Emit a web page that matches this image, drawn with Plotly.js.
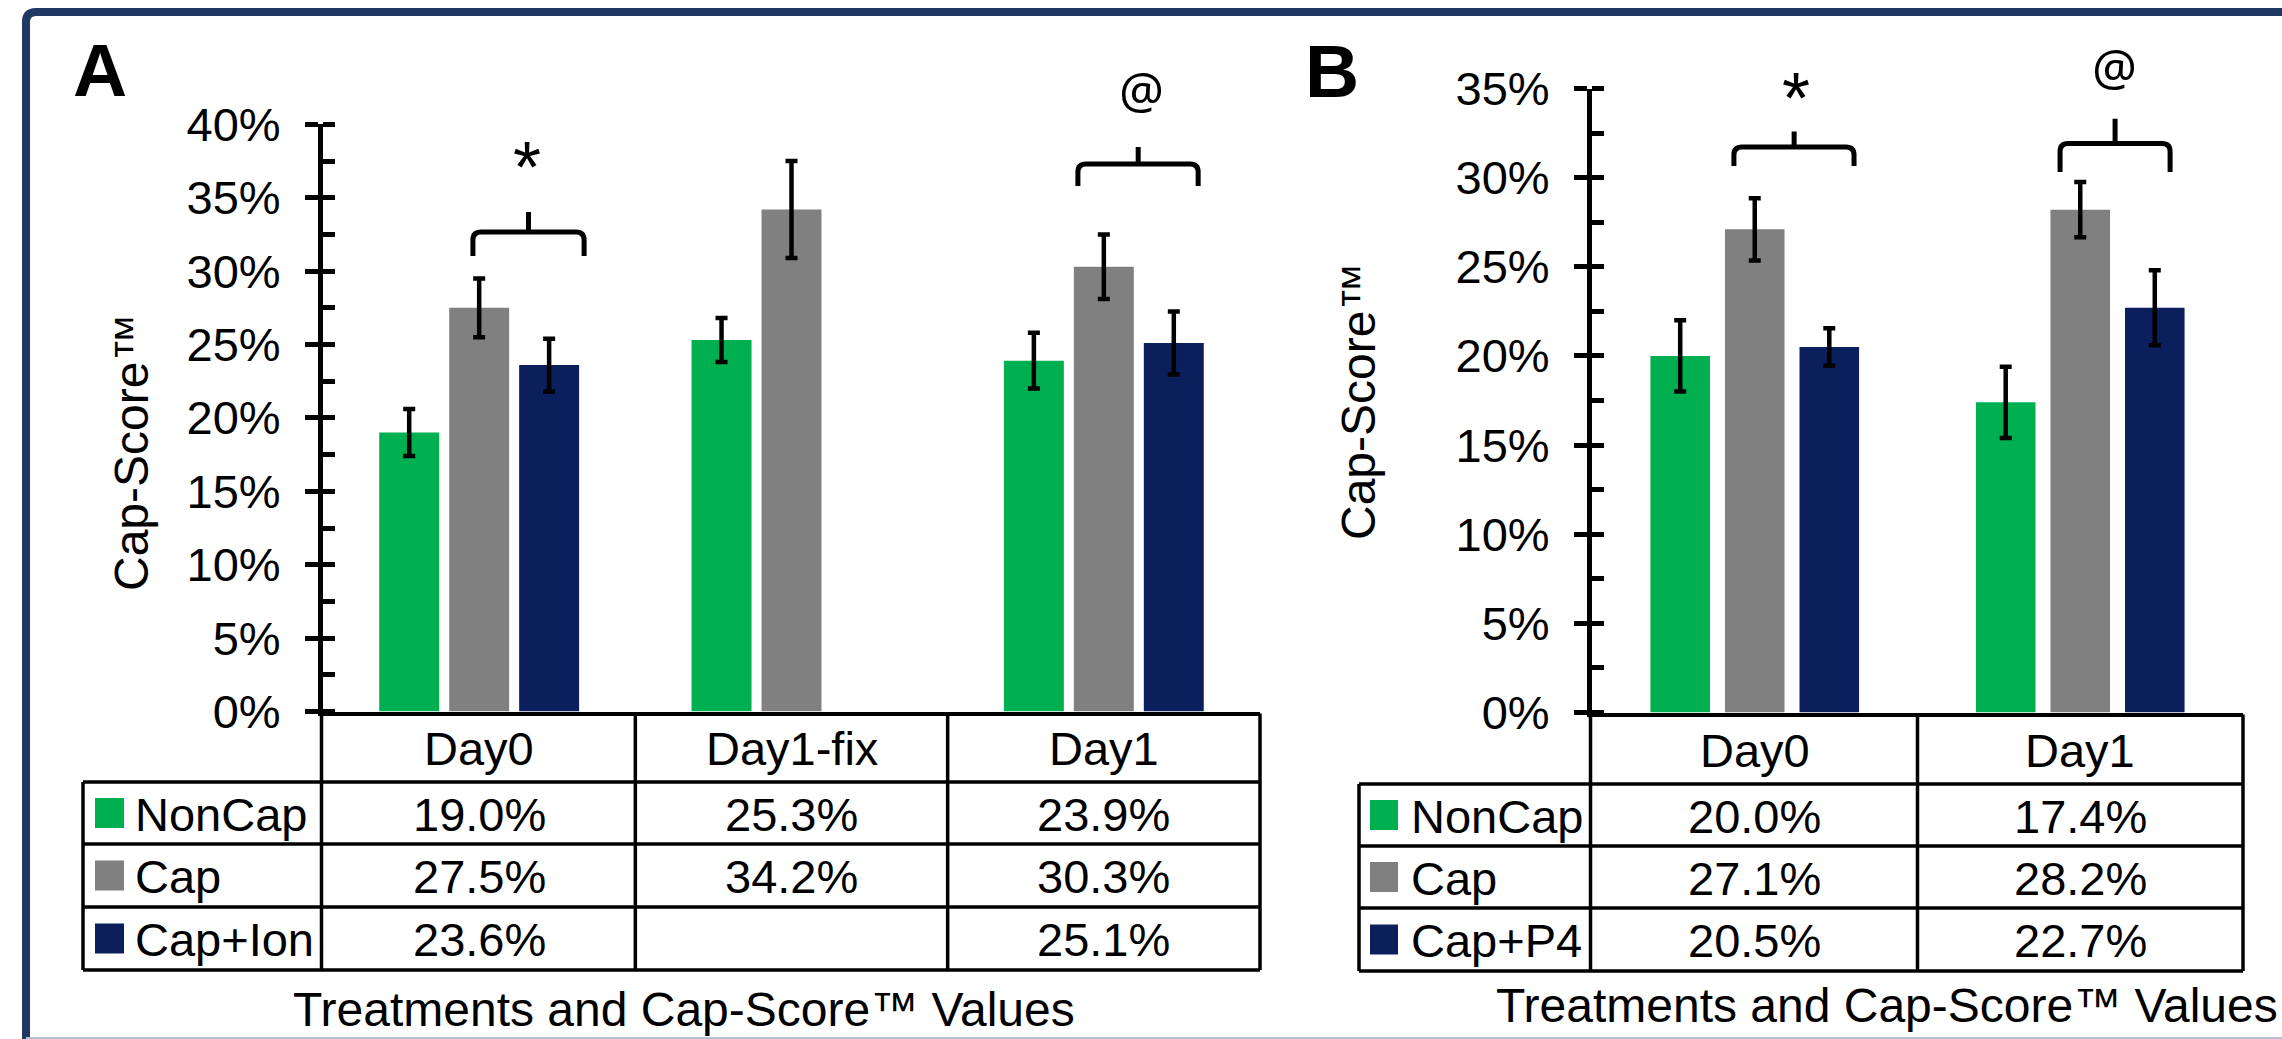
<!DOCTYPE html>
<html>
<head>
<meta charset="utf-8">
<script src="https://cdn.plot.ly/plotly-3.0.1.min.js"></script>
<style>
  html, body { margin: 0; padding: 0; background: #ffffff; }
  #chart { width: 2282px; height: 1039px; }
</style>
</head>
<body>
<div id="chart"></div>
<script>
// ---------------- DATA ----------------
const categoriesA = ['Day0', 'Day1-fix', 'Day1'];
const seriesA = ['NonCap', 'Cap', 'Cap+Ion'];
const nonCapA = [19.0, 25.3, 23.9];
const capA = [27.5, 34.2, 30.3];
const capIonA = [23.6, null, 25.1];
const nonCapErrA = [1.6, 1.5, 1.9];
const capErrA = [2.0, 3.3, 2.2];
const capIonErrA = [1.8, null, 2.15];

const categoriesB = ['Day0', 'Day1'];
const seriesB = ['NonCap', 'Cap', 'Cap+P4'];
const nonCapB = [20.0, 17.4];
const capB = [27.1, 28.2];
const capP4B = [20.5, 22.7];
const nonCapErrB = [2.0, 2.0];
const capErrB = [1.75, 1.55];
const capP4ErrB = [1.05, 2.1];

const tickSuffix = '%';
const xTitleText = 'Treatments and Cap-Score\u2122 Values';
const yTitleText = 'Cap-Score\u2122';
const panelLabels = ['A', 'B'];
const marksA = ['*', '@'];
const marksB = ['*', '@'];

// ---------------- STYLE / GEOMETRY ----------------
const W = 2282, H = 1039;
const FONT = 'Liberation Sans, Arial, sans-serif';
const seriesColors = ['#00B050', '#808080', '#0B1F5C'];
const px = v => v / W;
const py = v => 1 - v / H;

const panels = [
  {
    xa: 'x', ya: 'y', yov: 'y3',
    cats: categoriesA, names: seriesA,
    vals: [nonCapA, capA, capIonA], errs: [nonCapErrA, capErrA, capIonErrA],
    domPx: [323, 1260], yDomPx: [711.5, 124.3], yMax: 40,
    barW: 0.192, step: 0.224,
    headerTop: 713.5, rowsPx: [782, 844, 907, 970], firstColPx: 321.5,
    legLeftPx: 83, swatchPx: [95, 124], labelPx: 133,
    brackets: [
      {cat: 0, x0: -0.02, x1: 0.336, xp: 0.158, yE: 31.03, yT: 32.66, yP: 34.03},
      {cat: 2, x0: -0.083, x1: 0.302, xp: 0.11, yE: 35.8, yT: 37.3, yP: 38.46}
    ],
    marks: marksA,
    markPos: [{cat: 0, dx: 0.153, yPx: 167}, {cat: 2, dx: 0.122, yPx: 89}],
    xTitle: {x: 684, y: 1009}, yTitle: {x: 131, y: 453}, label: {x: 100, y: 70},
    labelText: panelLabels[0]
  },
  {
    xa: 'x2', ya: 'y2', yov: 'y4',
    cats: categoriesB, names: seriesB,
    vals: [nonCapB, capB, capP4B], errs: [nonCapErrB, capErrB, capP4ErrB],
    domPx: [1592, 2243], yDomPx: [712.5, 88.5], yMax: 35,
    barW: 0.183, step: 0.229,
    headerTop: 714.5, rowsPx: [784, 846, 908, 971], firstColPx: 1590.5,
    legLeftPx: 1359, swatchPx: [1370, 1398], labelPx: 1409,
    brackets: [
      {cat: 0, x0: -0.064, x1: 0.305, xp: 0.121, yE: 30.65, yT: 31.72, yP: 32.59},
      {cat: 1, x0: -0.062, x1: 0.276, xp: 0.107, yE: 30.32, yT: 31.92, yP: 33.31}
    ],
    marks: marksB,
    markPos: [{cat: 0, dx: 0.126, yPx: 98}, {cat: 1, dx: 0.104, yPx: 66}],
    xTitle: {x: 1887, y: 1005}, yTitle: {x: 1358, y: 402}, label: {x: 1332, y: 70.5},
    labelText: panelLabels[1]
  }
];

const traces = [];
const shapes = [];
const annotations = [];
const layout = {
  width: W, height: H,
  margin: {l: 0, r: 0, t: 0, b: 0, pad: 0},
  paper_bgcolor: '#ffffff', plot_bgcolor: 'rgba(0,0,0,0)',
  showlegend: false,
  barmode: 'overlay',
  font: {family: FONT, color: '#000000', size: 47}
};

function axKey(id) { return (id.charAt(0) === 'x' ? 'xaxis' : 'yaxis') + id.slice(1); }

panels.forEach(P => {
  const n = P.cats.length;
  const domW = P.domPx[1] - P.domPx[0];
  const dx = v => (v - P.domPx[0]) / domW;
  const catPx = domW / n;
  const unitPx = (P.yDomPx[0] - P.yDomPx[1]) / P.yMax;

  // bars
  P.names.forEach((name, k) => {
    traces.push({
      type: 'bar', name: name,
      x: P.cats, y: P.vals[k],
      xaxis: P.xa, yaxis: P.ya,
      width: P.barW, offset: (k - 1) * P.step - P.barW / 2,
      marker: {color: seriesColors[k], line: {width: 0}},
      error_y: {type: 'data', array: P.errs[k], visible: true, color: '#000000', thickness: 4.5, width: 6},
      hoverinfo: 'skip'
    });
  });
  // dummy trace for overlay tick axis
  traces.push({type: 'scatter', mode: 'none', x: [P.cats[0]], y: [null], xaxis: P.xa, yaxis: P.yov, hoverinfo: 'skip', showlegend: false});

  layout[axKey(P.xa)] = {
    domain: [px(P.domPx[0]), px(P.domPx[1])],
    type: 'category', range: [-0.5, n - 0.5], anchor: P.ya,
    showline: true, linewidth: 4, linecolor: '#000000',
    ticks: '', showticklabels: false, showgrid: false, zeroline: false, fixedrange: true
  };
  layout[axKey(P.ya)] = {
    domain: [py(P.yDomPx[0]), py(P.yDomPx[1])],
    range: [0, P.yMax], anchor: P.xa,
    tick0: 0, dtick: 5, ticksuffix: tickSuffix,
    ticks: 'outside', ticklen: 13, tickwidth: 5, tickcolor: '#000000',
    showline: true, linewidth: 5, linecolor: '#000000',
    showgrid: false, zeroline: false, fixedrange: true,
    ticklabelstandoff: 15,
    tickfont: {family: FONT, size: 47, color: '#000000'},
    minor: {tick0: 0, dtick: 2.5, ticks: 'inside', ticklen: 12, tickwidth: 5, tickcolor: '#000000', showgrid: false}
  };
  layout[axKey(P.yov)] = {
    overlaying: P.ya, anchor: P.xa, side: 'left',
    range: [0, P.yMax], tick0: 0, dtick: 5,
    ticks: 'inside', ticklen: 12, tickwidth: 5, tickcolor: '#000000',
    showticklabels: false, showline: false, showgrid: false, zeroline: false, fixedrange: true
  };

  // data table
  const xd = P.xa + ' domain';
  const lineStyle = {color: '#000000', width: 3.5};
  const rowsAll = P.rowsPx;
  const bottom = rowsAll[rowsAll.length - 1];
  for (let k = 0; k <= n; k++) {
    const xx = k === 0 ? dx(P.firstColPx) : k / n;
    shapes.push({type: 'line', xref: xd, yref: 'paper', x0: xx, x1: xx, y0: py(P.headerTop), y1: py(bottom), line: lineStyle});
  }
  shapes.push({type: 'line', xref: xd, yref: 'paper', x0: dx(P.legLeftPx), x1: dx(P.legLeftPx), y0: py(rowsAll[0]), y1: py(bottom), line: lineStyle});
  rowsAll.forEach(r => {
    shapes.push({type: 'line', xref: xd, yref: 'paper', x0: dx(P.legLeftPx), x1: 1, y0: py(r), y1: py(r), line: lineStyle});
  });
  // header
  P.cats.forEach(c => {
    annotations.push({xref: P.xa, yref: 'paper', x: c, y: py((P.headerTop + rowsAll[0]) / 2 + 1),
      text: c, showarrow: false, xanchor: 'center', yanchor: 'middle', font: {family: FONT, size: 47, color: '#000'}});
  });
  // rows
  P.names.forEach((name, s) => {
    const yc = (rowsAll[s] + rowsAll[s + 1]) / 2;
    shapes.push({type: 'rect', xref: xd, yref: 'paper', x0: dx(P.swatchPx[0]), x1: dx(P.swatchPx[1]),
      y0: py(yc + 15), y1: py(yc - 15), fillcolor: seriesColors[s], line: {width: 0}});
    annotations.push({xref: 'paper', yref: 'paper', x: px(P.labelPx), y: py(yc + 1), text: name, showarrow: false,
      xanchor: 'left', yanchor: 'middle', font: {family: FONT, size: 47, color: '#000'}});
    P.cats.forEach((c, i) => {
      const v = P.vals[s][i];
      if (v === null || v === undefined) return;
      annotations.push({xref: P.xa, yref: 'paper', x: c, y: py(yc + 1), text: v.toFixed(1) + '%', showarrow: false,
        xanchor: 'center', yanchor: 'middle', font: {family: FONT, size: 47, color: '#000'}});
    });
  });

  // significance brackets
  const rx = 8 / catPx, ry = 8 / unitPx;
  P.brackets.forEach(b => {
    const x0 = b.cat + b.x0, x1 = b.cat + b.x1, xp = b.cat + b.xp;
    const path = `M ${x0},${b.yE} L ${x0},${b.yT - ry} Q ${x0},${b.yT} ${x0 + rx},${b.yT} ` +
      `L ${x1 - rx},${b.yT} Q ${x1},${b.yT} ${x1},${b.yT - ry} L ${x1},${b.yE} ` +
      `M ${xp},${b.yT} L ${xp},${b.yP}`;
    shapes.push({type: 'path', xref: P.xa, yref: P.ya, path: path, line: {color: '#000000', width: 5}});
  });
  P.markPos.forEach((m, j) => {
    const isAt = P.marks[j] === '@';
    annotations.push({xref: P.xa, yref: 'paper', x: m.cat + m.dx, y: py(m.yPx), text: P.marks[j], showarrow: false,
      xanchor: 'center', yanchor: 'middle',
      font: isAt ? {family: 'Noto Sans, DejaVu Sans, sans-serif', size: 50, color: '#000'} : {family: FONT, size: 72, color: '#000'}});
  });

  // titles & panel letter
  annotations.push({xref: 'paper', yref: 'paper', x: px(P.xTitle.x), y: py(P.xTitle.y), text: xTitleText, showarrow: false,
    xanchor: 'center', yanchor: 'middle', font: {family: FONT, size: 48, color: '#000'}});
  annotations.push({xref: 'paper', yref: 'paper', x: px(P.yTitle.x), y: py(P.yTitle.y), text: yTitleText, showarrow: false,
    textangle: -90, xanchor: 'center', yanchor: 'middle', font: {family: FONT, size: 48, color: '#000'}});
  annotations.push({xref: 'paper', yref: 'paper', x: px(P.label.x), y: py(P.label.y), text: P.labelText, showarrow: false,
    xanchor: 'center', yanchor: 'middle', font: {family: FONT, size: 75, color: '#000', weight: 'bold'}});
});

// outer frame
shapes.push({type: 'path', xref: 'paper', yref: 'paper',
  path: `M ${px(26)},${py(1100)} L ${px(26)},${py(22)} Q ${px(26)},${py(12)} ${px(36)},${py(12)} L ${px(2400)},${py(12)}`,
  line: {color: '#1F3864', width: 8}});
shapes.push({type: 'line', xref: 'paper', yref: 'paper', x0: px(26), x1: px(2400), y0: py(1038), y1: py(1038),
  line: {color: '#B4C0D4', width: 2}});

layout.shapes = shapes;
layout.annotations = annotations;

Plotly.newPlot('chart', traces, layout, {displayModeBar: false, staticPlot: true});
</script>
</body>
</html>
